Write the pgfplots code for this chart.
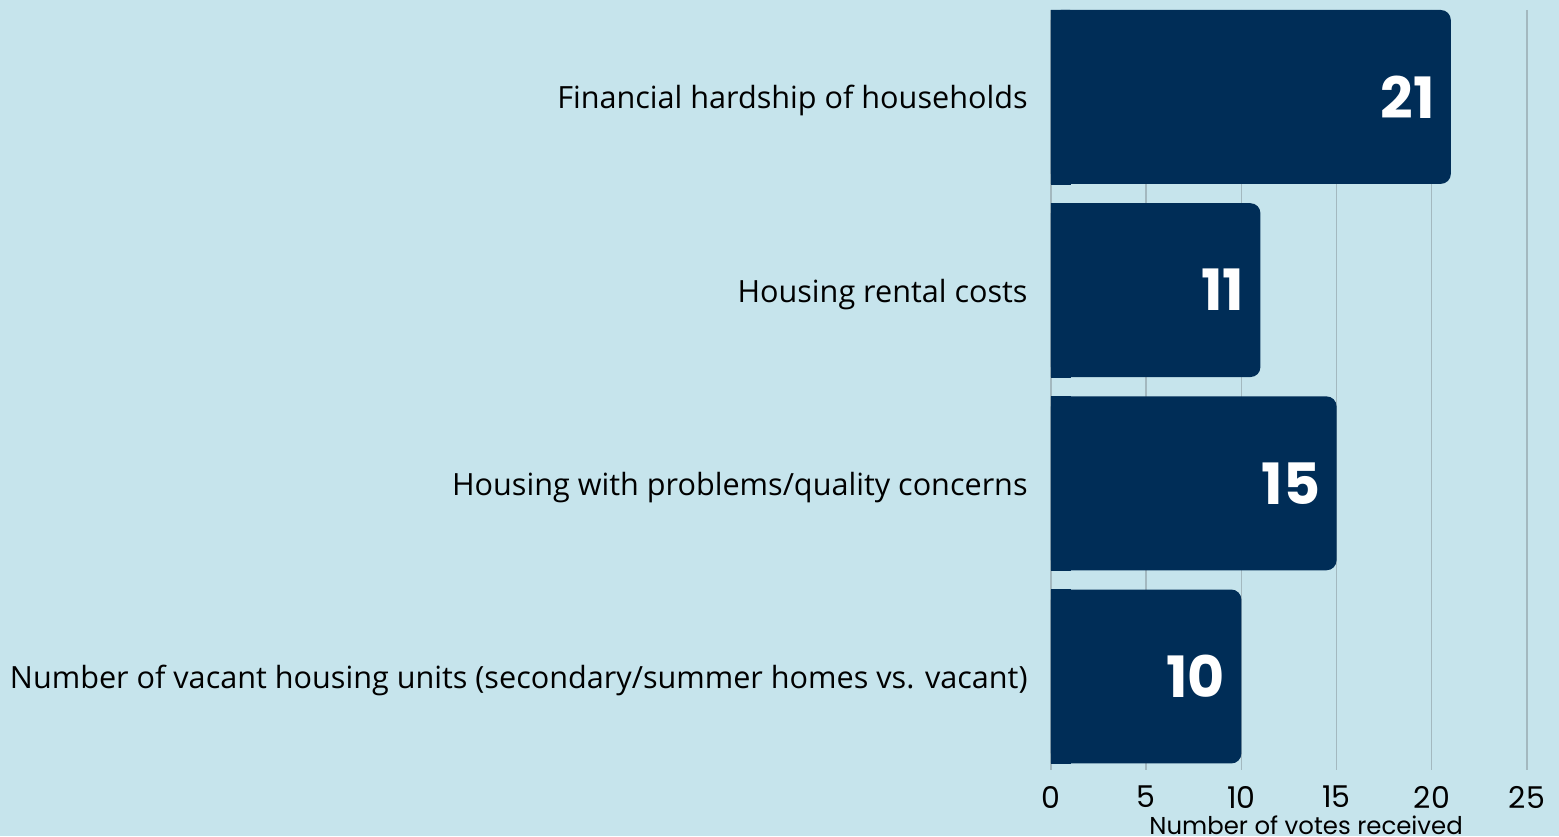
\documentclass[border=0pt]{standalone}
\usepackage{pgfplots}
\usepackage{pgfplotstable}
\pgfplotsset{compat=1.18}
\usepackage{fontspec}
\setmainfont{Open Sans}
\newfontfamily\pop{Poppins}
\definecolor{bg}{HTML}{C6E4EC}
\definecolor{navy}{HTML}{002D57}
\definecolor{gridc}{HTML}{A3B8BF}
\pgfplotstableread{
idx votes
0 21
1 11
2 15
3 10
}\data
\begin{document}
\begin{tikzpicture}
\useasboundingbox (0pt,0pt) rectangle (779.5pt,418pt);
\fill[bg] (0pt,0pt) rectangle (779.5pt,418pt);
\begin{axis}[
  at={(525.5pt,33pt)}, anchor=south west,
  scale only axis, width=238pt, height=380pt,
  xmin=0, xmax=25, ymin=-0.45, ymax=3.484, y dir=reverse,
  axis line style={draw=none},
  major tick length=0pt,
  xtick={0,5,10,15,20,25},
  xmajorgrids, grid style={gridc, line width=0.7pt},
  ytick={0,1,2,3},
  yticklabels={Financial hardship of households, Housing rental costs, Housing with problems/quality concerns, Number of vacant housing units (secondary/summer homes vs. vacant)},
  yticklabel style={anchor=east, inner sep=0pt, xshift=-11.5pt, yshift=-2pt, font=\fontsize{15.3}{17}\selectfont, text=black},
  xticklabel style={anchor=center, inner sep=0pt, yshift=-13.5pt, font=\pop\fontsize{15}{17}\selectfont, text=black},
  /pgf/number format/assume math mode=true,
  xlabel={Number of votes received},
  xlabel style={at={(axis description cs:0.536,0)}, anchor=center, inner sep=0pt, yshift=-27.5pt, font=\pop\fontsize{12.2}{13}\selectfont, text=black},
  bar width=0.9,
  clip=false,
]
\addplot[xbar, fill=navy, draw=none, rounded corners=5pt,
  nodes near coords={\pgfmathprintnumber{\pgfplotspointmeta}},
  nodes near coords style={anchor=east, inner sep=0pt, xshift=-8pt, text=white, font=\pop\bfseries\fontsize{28.5}{30}\selectfont}]
  table[x=votes, y=idx] {\data};
\addplot[xbar, fill=navy, draw=navy, line width=0.3pt, forget plot]
  table[x expr={min(\thisrow{votes},1)}, y=idx] {\data};
\end{axis}
\end{tikzpicture}
\end{document}
